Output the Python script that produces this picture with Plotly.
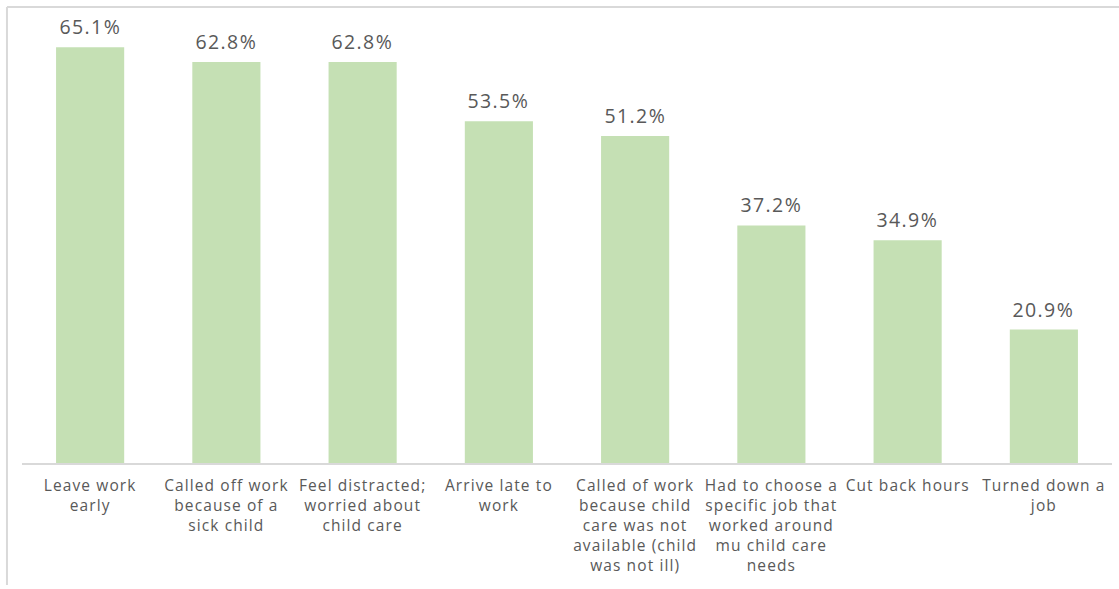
import plotly.graph_objects as go

# Survey responses: how child care issues affected work
categories = [
    "Leave work<br>early",
    "Called off work<br>because of a<br>sick child",
    "Feel distracted;<br>worried about<br>child care",
    "Arrive late to<br>work",
    "Called of work<br>because child<br>care was not<br>available (child<br>was not ill)",
    "Had to choose a<br>specific job that<br>worked around<br>mu child care<br>needs",
    "Cut back hours",
    "Turned down a<br>job",
]
percentages = [65.1, 62.8, 62.8, 53.5, 51.2, 37.2, 34.9, 20.9]
value_labels = ["65.1%", "62.8%", "62.8%", "53.5%", "51.2%", "37.2%", "34.9%", "20.9%"]

BAR_COLOR = "#c5e0b4"
TEXT_COLOR = "#595959"
FRAME_COLOR = "#d9d9d9"
FONT = "Open Sans, Noto Sans, sans-serif"

fig = go.Figure(
    go.Bar(
        x=categories,
        y=percentages,
        marker=dict(color=BAR_COLOR, line=dict(width=0)),
        hoverinfo="skip",
    )
)

# Percentage labels above each bar
for cat, val, lab in zip(categories, percentages, value_labels):
    fig.add_annotation(
        x=cat, y=val, text=lab, showarrow=False,
        yanchor="bottom", yshift=5,
        font=dict(family=FONT, size=19.5, color=TEXT_COLOR),
    )

# Light outer frame along the top and left edges
fig.add_shape(type="line", xref="paper", yref="paper",
              x0=-0.0138, x1=1.02, y0=1.0201, y1=1.0201,
              line=dict(color=FRAME_COLOR, width=2))
fig.add_shape(type="line", xref="paper", yref="paper",
              x0=-0.0138, x1=-0.0138, y0=1.0201, y1=-0.273,
              line=dict(color=FRAME_COLOR, width=2))

fig.update_layout(
    width=1119, height=589,
    margin=dict(l=22, r=7, t=16, b=126),
    paper_bgcolor="white", plot_bgcolor="white",
    bargap=0.5,
    showlegend=False,
    font=dict(family=FONT, color=TEXT_COLOR),
    xaxis=dict(
        showline=True, linecolor=FRAME_COLOR, linewidth=2,
        showgrid=False, zeroline=False,
        ticks="outside", ticklen=7, tickcolor="rgba(0,0,0,0)",
        tickfont=dict(family=FONT, size=15.5, color=TEXT_COLOR),
        tickangle=0,
    ),
    yaxis=dict(range=[0, 70], visible=False, showgrid=False, zeroline=False),
)

# Slightly open letter spacing on the category and value labels
spacing_js = """
document.querySelectorAll('.xtick text').forEach(function(t){ t.style.letterSpacing = '1.1px'; });
document.querySelectorAll('.annotation-text').forEach(function(t){ t.style.letterSpacing = '1.4px'; });
"""

fig.write_html("out.html", post_script=spacing_js)
